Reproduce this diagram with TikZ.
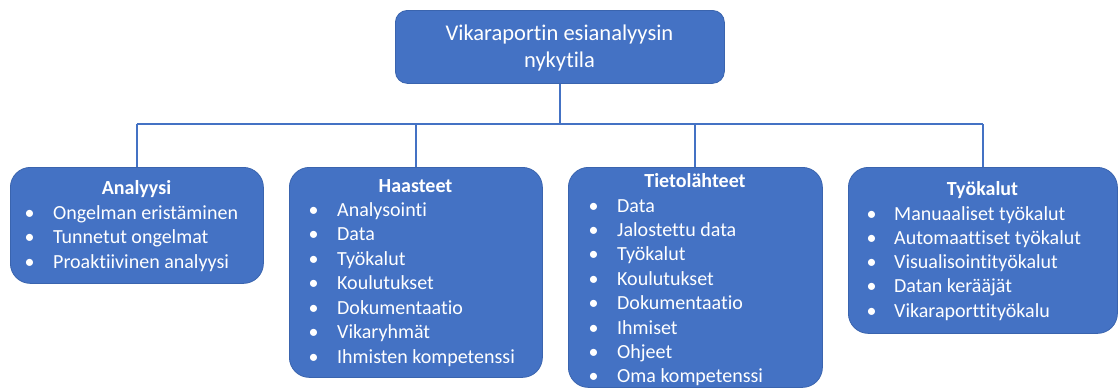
\documentclass[tikz,border=0pt]{standalone}
\usepackage{fontspec}
\setmainfont[Ligatures=NoCommon]{Carlito}
\definecolor{fillblue}{HTML}{4472C4}
\definecolor{lineblue}{HTML}{3A64AE}
\definecolor{linkblue}{HTML}{4472C4}
\begin{document}
\begin{tikzpicture}[x=1pt,y=-1pt,
  box/.style={draw=lineblue, line width=0.8pt, fill=fillblue, rounded corners=20pt,
    inner sep=0pt, anchor=north west},
  topbox/.style={box, rounded corners=12pt},
  link/.style={draw=linkblue, line width=2pt},
  heading/.style={text=white, font=\bfseries\fontsize{20}{24.4}\selectfont, anchor=base, inner sep=0pt},
  item/.style={text=white, font=\fontsize{20}{24.4}\selectfont, anchor=base west, inner sep=0pt},
  title/.style={text=white, font=\fontsize{22.5}{27}\selectfont, align=center, inner sep=0pt}
]
\useasboundingbox (0,0) rectangle (1118,388);

% boxes
\node[topbox, minimum width=329pt, minimum height=73pt] (top) at (395,10) {};
\node[box, minimum width=253pt, minimum height=116pt] (b1) at (10,167) {};
\node[box, minimum width=253pt, minimum height=210pt] (b2) at (289,167) {};
\node[box, minimum width=254pt, minimum height=220pt] (b3) at (568,167) {};
\node[box, minimum width=269pt, minimum height=166pt] (b4) at (848,167) {};

% connectors
\coordinate (hub) at (559.5,124);
\draw[link] (top.south) -- (top.south |- hub);
\draw[link] (b1.north |- hub) -- (b4.north |- hub);
\foreach \b in {b1,b2,b3,b4} \draw[link] (\b.north |- hub) -- (\b.north);

% title
\node[title] (titletext) at (559.5,48.5) {Vikaraportin esianalyysin\\nykytila};

% headings
\node[heading] (hd1) at (136.5,194) {Analyysi};
\node[heading] (hd2) at (415.5,192) {Haasteet};
\node[heading] (hd3) at (695,187) {Tietolähteet};
\node[heading] (hd4) at (982.5,195) {Työkalut};

% bullet lists
\foreach \t [count=\i] in {Ongelman eristäminen, Tunnetut ongelmat, Proaktiivinen analyysi}
  \node[item] (a\i) at ({24.5},{219+(\i-1)*24.5}) {\makebox[28.5pt][l]{\textbullet}\t};
\foreach \t [count=\i] in {Analysointi, Data, Työkalut, Koulutukset, Dokumentaatio, Vikaryhmät, Ihmisten kompetenssi}
  \node[item] (h\i) at ({308.5},{216+(\i-1)*24.5}) {\makebox[28.5pt][l]{\textbullet}\t};
\foreach \t [count=\i] in {Data, Jalostettu data, Työkalut, Koulutukset, Dokumentaatio, Ihmiset, Ohjeet, Oma kompetenssi}
  \node[item] (t\i) at ({588.5},{212+(\i-1)*24.4}) {\makebox[28.5pt][l]{\textbullet}\t};
\foreach \t [count=\i] in {Manuaaliset työkalut, Automaattiset työkalut, Visualisointityökalut, Datan kerääjät, Vikaraporttityökalu}
  \node[item] (w\i) at ({866.5},{220+(\i-1)*24.3}) {\makebox[27.5pt][l]{\textbullet}\t};
\end{tikzpicture}
\end{document}
